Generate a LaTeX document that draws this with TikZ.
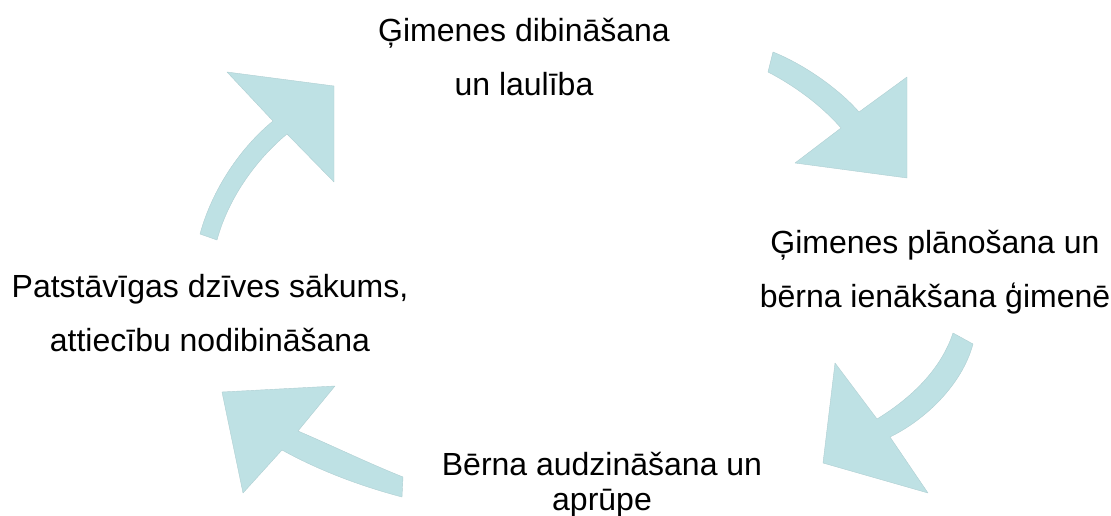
\documentclass[tikz,border=0pt]{standalone}
\usepackage{fontspec}
\setmainfont{Liberation Sans}
\definecolor{arrowfill}{RGB}{190,225,228}
\begin{document}
\begin{tikzpicture}[x=1pt,y=-1pt,
  arrowshape/.style={fill=arrowfill, draw=arrowfill!92!black, line width=0.4pt, line join=round},
  stagelabel/.style={font=\fontsize{32}{54}\selectfont, align=center, inner sep=0pt, anchor=base}]
\useasboundingbox (0,0) rectangle (1111,516);

% text labels (anchor at baseline of last line)
\node[stagelabel] (marriage) at (524,96) {Ģimenes dibināšana\\un laulība};
\node[stagelabel] (planning) at (935,307) {Ģimenes plānošana un\\bērna ienākšana ģimenē};
\node[stagelabel] (independence) at (210,351) {Patstāvīgas dzīves sākums,\\attiecību nodibināšana};
\node[stagelabel, font=\fontsize{32}{35}\selectfont] (upbringing) at (602,510) {Bērna audzināšana un\\aprūpe};

% arrow: independence -> marriage
\path[arrowshape] (217,240) -- (200,234)
  .. controls (212,190) and (240,148) .. (273,121)
  -- (227,72) -- (334,86) -- (334,182) -- (287,134)
  .. controls (258,158) and (229,196) .. cycle;

% arrow: marriage -> planning
\path[arrowshape] (768,72) -- (773,52)
  .. controls (803,64) and (838,88) .. (859,112)
  -- (907,77) -- (907,178) -- (795,163) -- (841,128)
  .. controls (822,106) and (795,86) .. cycle;

% arrow: planning -> upbringing
\path[arrowshape] (953,333) -- (973,344)
  .. controls (962,385) and (925,420) .. (890,437)
  -- (928,493) -- (823,463) -- (835,363) -- (877,419)
  .. controls (908,400) and (940,372) .. cycle;

% arrow: upbringing -> independence
\path[arrowshape] (403,477)
  .. controls (368,463) and (333,446) .. (298,431)
  -- (335,386) -- (222,392) -- (243,493) -- (282,450)
  .. controls (318,470) and (360,486) .. (402,497) -- cycle;
\end{tikzpicture}
\end{document}
